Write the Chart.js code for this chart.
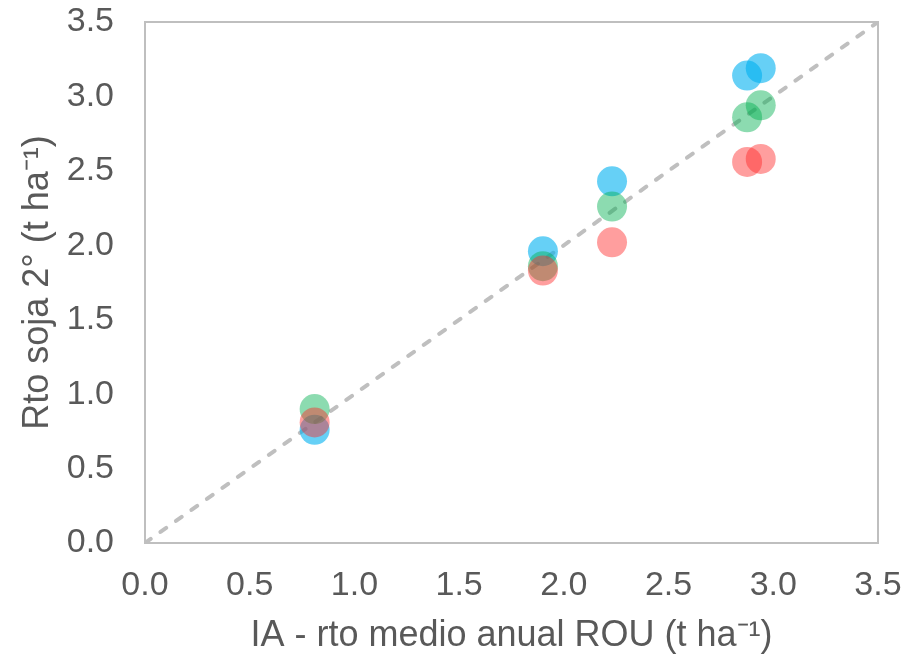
<!DOCTYPE html>
<html>
<head>
<meta charset="utf-8">
<script src="https://cdn.jsdelivr.net/npm/chart.js@4/dist/chart.umd.min.js"></script>
<style>
  html, body { margin: 0; padding: 0; background: #fff; }
  #wrap { width: 910px; height: 661px; }
</style>
</head>
<body>
<div id="wrap"><canvas id="chart" width="910" height="661"></canvas></div>
<script>
// IA - rto medio anual ROU (x) vs Rto soja 2° (y)
const xValues = [0.81, 1.90, 2.23, 2.875, 2.94];
const blueValues = [0.76, 1.96, 2.43, 3.14, 3.19];
const greenValues = [0.90, 1.86, 2.26, 2.86, 2.94];
const redValues = [0.81, 1.83, 2.02, 2.56, 2.58];
const oneToOne = [[0, 0], [3.5, 3.5]];
const tickLabels = ['0.0', '0.5', '1.0', '1.5', '2.0', '2.5', '3.0', '3.5'];

const textColor = '#595959';
const lineGray = '#bfbfbf';
const family = "'Liberation Sans', Arial, sans-serif";
const tickFont = { family: family, size: 34 };
const titleFont = { family: family, size: 36 };

function toPoints(ys) {
  return xValues.map((x, i) => ({ x: x, y: ys[i] }));
}

function noPadding(scale) {
  scale.paddingLeft = 0;
  scale.paddingRight = 0;
  scale.paddingTop = 0;
  scale.paddingBottom = 0;
}

const frame = {
  id: 'frame',
  afterDatasetsDraw(chart) {
    const a = chart.chartArea;
    const ctx = chart.ctx;
    ctx.save();
    ctx.strokeStyle = lineGray;
    ctx.lineWidth = 2;
    ctx.strokeRect(a.left, a.top, a.right - a.left, a.bottom - a.top);
    ctx.restore();
  }
};

new Chart(document.getElementById('chart'), {
  type: 'scatter',
  data: {
    datasets: [
      { label: 'rojo', data: toPoints(redValues), backgroundColor: 'rgba(255,40,40,0.45)', borderWidth: 0, pointRadius: 15, order: 1 },
      { label: 'verde', data: toPoints(greenValues), backgroundColor: 'rgba(0,176,80,0.45)', borderWidth: 0, pointRadius: 15, order: 2 },
      { label: 'azul', data: toPoints(blueValues), backgroundColor: 'rgba(0,176,240,0.6)', borderWidth: 0, pointRadius: 15, order: 3 },
      {
        label: '1:1', type: 'line', data: oneToOne.map(p => ({ x: p[0], y: p[1] })),
        borderColor: lineGray, borderWidth: 4, borderDash: [7, 12], borderCapStyle: 'round',
        pointRadius: 0, fill: false, order: 4
      }
    ]
  },
  options: {
    responsive: false,
    animation: false,
    layout: { padding: { left: 0, right: 32, top: 22, bottom: 0 } },
    plugins: { legend: { display: false }, tooltip: { enabled: false } },
    scales: {
      x: {
        type: 'linear', min: 0, max: 3.5,
        grid: { display: false },
        border: { display: false },
        afterFit(scale) { scale.height = 118; noPadding(scale); },
        ticks: {
          stepSize: 0.5, color: textColor, font: tickFont, padding: 14,
          callback: (v, i) => tickLabels[i]
        },
        title: {
          display: true, text: 'IA - rto medio anual ROU (t ha⁻¹)',
          color: textColor, font: titleFont, padding: { top: 0, bottom: 3 }
        }
      },
      y: {
        type: 'linear', min: 0, max: 3.5,
        grid: { display: false },
        border: { display: false },
        afterFit(scale) { scale.width = 145; noPadding(scale); },
        ticks: {
          stepSize: 0.5, color: textColor, font: tickFont, padding: 23,
          callback: (v, i) => tickLabels[i]
        },
        title: {
          display: true, text: 'Rto soja 2° (t ha⁻¹)',
          color: textColor, font: titleFont, padding: { top: 16, bottom: 0 }
        }
      }
    }
  },
  plugins: [frame]
});
</script>
</body>
</html>
